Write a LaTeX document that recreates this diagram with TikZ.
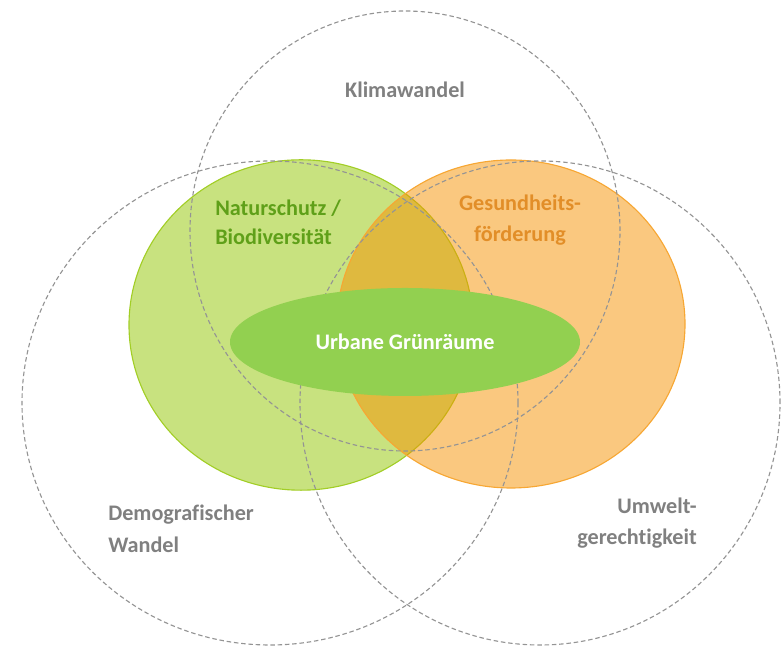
\documentclass[tikz,border=0pt]{standalone}
\usepackage{fontspec}
\setmainfont{Carlito}[Ligatures=NoCommon]
\usepackage{tikz}
\usetikzlibrary{shapes.geometric}

\definecolor{leafgreen}{RGB}{146,197,0}
\definecolor{sungold}{RGB}{245,145,0}
\definecolor{parkgreen}{RGB}{146,208,80}
\definecolor{greentext}{RGB}{95,160,25}
\definecolor{orangetext}{RGB}{226,142,40}
\definecolor{greytext}{RGB}{128,128,128}

\begin{document}
\begin{tikzpicture}
					[field/.style={draw=black!42,dashed,dash pattern=on 3.2pt off 2pt,line width=0.8pt},
					lbl/.style={font=\fontsize{15.8}{22.5}\selectfont\bfseries,align=left,inner sep=0pt},
					every node/.style={text=greytext}]
					\useasboundingbox (0,0) rectangle (19.6,16.15);
					% the two coloured topics
					\fill[leafgreen,opacity=0.5] (7.525,8.025) ellipse (4.3 and 4.13);
					\draw[leafgreen!85,line width=0.8pt] (7.525,8.025) ellipse (4.3 and 4.13);
					\fill[sungold,opacity=0.5] (12.775,8.05) ellipse (4.35 and 4.1);
					\draw[sungold!80,line width=0.8pt] (12.775,8.05) ellipse (4.35 and 4.1);
					% the three dashed fields
					\draw[field] (10.125,10.375) ellipse (5.375 and 5.5);
					\draw[field] (6.75,6.075) ellipse (6.2 and 6.05);
					\draw[field] (13.5,6.075) ellipse (6.0 and 6.05);
					% core
					\node[ellipse,fill=parkgreen,minimum width=8.75cm,minimum height=2.7cm] (core) at (10.125,7.6) {};
					\node[lbl,text=white,align=center] at (core) {Urbane Grünräume};
					\node[lbl] (klima) at (10.125,13.9) {Klimawandel};
					\node[lbl,font=\fontsize{15.8}{20.5}\selectfont\bfseries,text=greentext,anchor=west] (natur) at (5.375,10.6) {Naturschutz /\\Biodiversität};
					\node[lbl,text=orangetext,align=center] (gesund) at (13.0,10.65) {Gesundheits-\\förderung};
					\node[lbl,anchor=west] (demo) at (2.7,2.925) {Demografischer\\Wandel};
					\node[lbl,anchor=east,align=right] (umwelt) at (17.425,3.075) {Umwelt-\\gerechtigkeit};
				\end{tikzpicture}
\end{document}
